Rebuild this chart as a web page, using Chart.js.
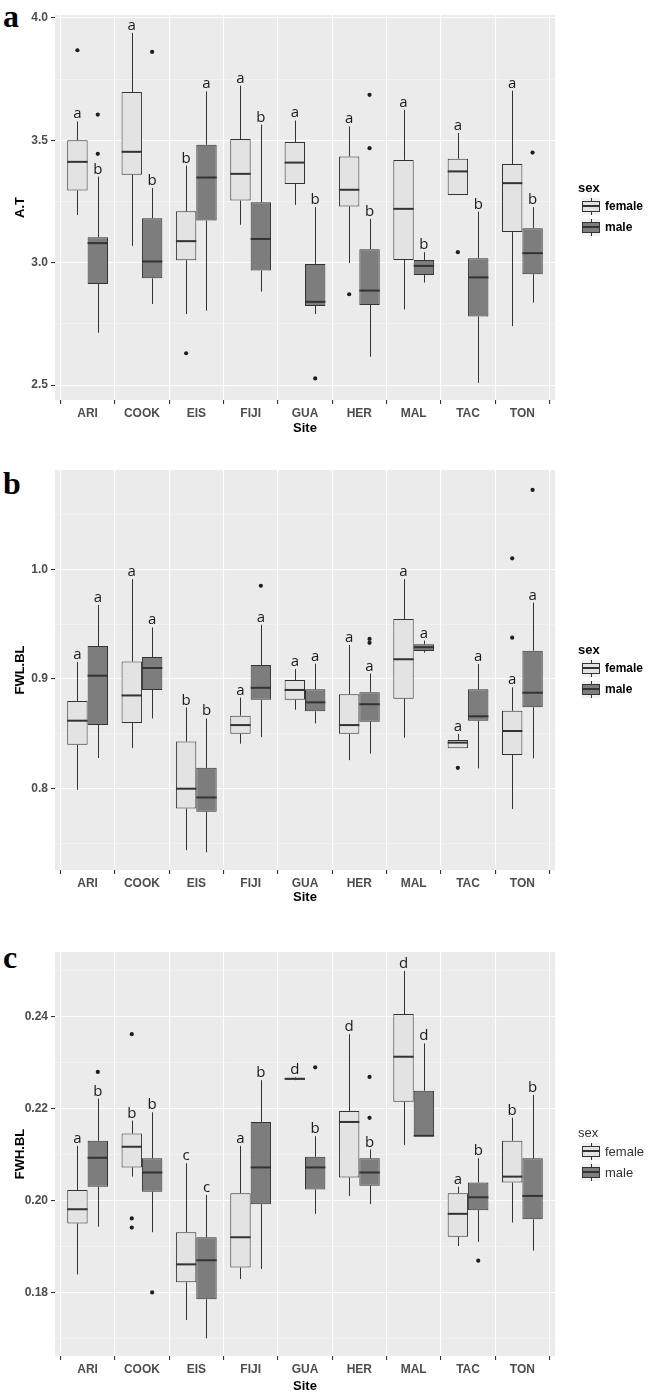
<!DOCTYPE html>
<html><head><meta charset="utf-8">
<script src="https://cdn.jsdelivr.net/npm/chart.js@4.4.1/dist/chart.umd.min.js"></script>
<style>
body{margin:0;background:#fff;width:650px;height:1393px;position:relative;overflow:hidden;font-family:"Liberation Sans",Arial,sans-serif}
canvas{position:absolute;left:0}
.plab{position:absolute;left:3px;font:bold 32px "Liberation Serif","Times New Roman",serif;line-height:1;color:#000}
.leg{position:absolute;left:578px;width:72px}
.leg .t{position:absolute;left:0;font-size:13px;line-height:15px;color:#000}
.leg .row{position:absolute;left:4px;height:17px;width:70px}
.leg .key{position:absolute;left:0;top:0;width:18px;height:17px;background:#F2F2F2}
.leg .wh{position:absolute;left:8.5px;top:0;width:1px;height:17px;background:#333}
.leg .bx{position:absolute;left:0;top:3px;width:16px;height:9px;border:1px solid #333}
.leg .md{position:absolute;left:0;top:7px;width:18px;height:2px;background:#333}
.leg .lt{position:absolute;left:23px;top:1px;font-size:12px;line-height:15px;color:#000;white-space:nowrap}
</style></head>
<body>
<div class="plab" style="top:0px">a</div>
<div class="plab" style="top:467px">b</div>
<div class="plab" style="top:941px">c</div>
<canvas id="ca" width="650" height="440" style="top:0px"></canvas>
<canvas id="cb" width="650" height="455" style="top:455px"></canvas>
<canvas id="cc" width="650" height="465" style="top:937px"></canvas>
<div class="leg" id="la" style="top:180px"></div>
<div class="leg" id="lb" style="top:642px"></div>
<div class="leg" id="lc" style="top:1125px"></div>
<script>
// ---------- data ----------
const sites = ['ARI','COOK','EIS','FIJI','GUA','HER','MAL','TAC','TON'];
const sexes = ['female','male'];

// each entry: [lower whisker, Q1, median, Q3, upper whisker]
// Panel a : A.T
const atFemale = [[3.195,3.295,3.412,3.500,3.577],[3.069,3.359,3.453,3.697,3.939],[2.790,3.010,3.088,3.210,3.397],[3.155,3.254,3.363,3.505,3.723],[3.236,3.322,3.409,3.493,3.581],[2.998,3.230,3.298,3.434,3.557],[2.809,3.011,3.220,3.420,3.625],[3.277,3.277,3.373,3.425,3.530],[2.741,3.125,3.325,3.403,3.703]];
const atMale = [[2.714,2.913,3.080,3.104,3.352],[2.831,2.936,3.005,3.182,3.305],[2.804,3.172,3.348,3.482,3.700],[2.882,2.968,3.097,3.247,3.564],[2.790,2.823,2.840,2.995,3.227],[2.616,2.827,2.886,3.055,3.179],[2.919,2.950,2.987,3.011,3.043],[2.509,2.780,2.940,3.018,3.209],[2.837,2.953,3.039,3.141,3.227]];
const atFemaleOut = [[3.868],[],[2.630],[],[],[2.871],[],[3.043],[]];
const atMaleOut = [[3.605,3.445],[3.861],[],[],[2.527],[3.686,3.468],[],[],[3.450]];
const atFemaleLetters = ['a','a','b','a','a','a','a','a','a'];
const atMaleLetters = ['b','b','a','b','b','b','b','b','b'];
const atTicks = [2.5,3.0,3.5,4.0];
const atTickLabels = ['2.5','3.0','3.5','4.0'];
const atMinor = [2.75,3.25,3.75];

// Panel b : FWL.BL
const fwlFemale = [[0.799,0.840,0.862,0.880,0.9155],[0.837,0.860,0.885,0.916,0.991],[0.744,0.782,0.800,0.843,0.874],[0.841,0.850,0.858,0.8666,0.883],[0.872,0.881,0.890,0.899,0.909],[0.826,0.850,0.858,0.886,0.931],[0.8465,0.882,0.918,0.9547,0.991],[0.8368,0.8368,0.842,0.8444,0.850],[0.7815,0.8307,0.8526,0.871,0.8924]];
const fwlMale = [[0.828,0.858,0.903,0.930,0.9675],[0.864,0.890,0.910,0.920,0.947],[0.742,0.779,0.792,0.819,0.864],[0.847,0.881,0.892,0.9128,0.9495],[0.8596,0.8705,0.8787,0.8906,0.914],[0.832,0.861,0.877,0.888,0.905],[0.924,0.9255,0.929,0.9316,0.935],[0.8185,0.862,0.866,0.8906,0.9137],[0.8277,0.8742,0.8875,0.9258,0.9696]];
const fwlFemaleOut = [[],[],[],[],[],[],[],[0.819],[1.010,0.9377]];
const fwlMaleOut = [[],[],[],[0.985],[],[0.9365,0.933],[],[],[1.0723]];
const fwlFemaleLetters = ['a','a','b','a','a','a','a','a','a'];
const fwlMaleLetters = ['a','a','b','a','a','a','a','a','a'];
const fwlTicks = [0.8,0.9,1.0];
const fwlTickLabels = ['0.8','0.9','1.0'];
const fwlMinor = [0.75,0.85,0.95,1.05];

// Panel c : FWH.BL
const fwhFemale = [[0.1839,0.1950,0.1981,0.2023,0.2119],[0.2052,0.2072,0.2117,0.2146,0.2174],[0.1740,0.1822,0.1861,0.1931,0.2081],[0.1829,0.1854,0.1920,0.2016,0.2119],[0.2262,0.2263,0.2265,0.2266,0.2268],[0.2010,0.2050,0.2171,0.2195,0.2362],[0.2121,0.2215,0.2313,0.2406,0.2500],[0.1901,0.1921,0.1971,0.2016,0.2030],[0.1952,0.2039,0.2052,0.2130,0.2180]];
const fwhMale = [[0.1943,0.2030,0.2093,0.2130,0.2222],[0.1931,0.2019,0.2061,0.2092,0.2192],[0.1700,0.1785,0.1870,0.1920,0.2012],[0.1851,0.1992,0.2072,0.2171,0.2262],[0.1971,0.2024,0.2072,0.2095,0.2140],[0.1992,0.2032,0.2061,0.2092,0.2111],[0.2141,0.2141,0.2141,0.2239,0.2342],[0.1910,0.1979,0.2007,0.2039,0.2092],[0.1891,0.1959,0.2010,0.2092,0.2230]];
const fwhFemaleOut = [[],[0.2362,0.1961,0.1941],[],[],[],[],[],[],[]];
const fwhMaleOut = [[0.2280],[0.1800],[],[],[0.2290],[0.2269,0.2180],[],[0.1869],[]];
const fwhFemaleLetters = ['a','b','c','a','d','d','d','a','b'];
const fwhMaleLetters = ['b','b','c','b','b','b','d','b','b'];
const fwhTicks = [0.18,0.20,0.22,0.24];
const fwhTickLabels = ['0.18','0.20','0.22','0.24'];
const fwhMinor = [0.17,0.19,0.21,0.23,0.25];

// ---------- drawing ----------
const FEMALE_FILL = '#E3E3E3', MALE_FILL = '#7D7D7D', LINE = '#333333';
const DODGE = 0.1875;
Chart.defaults.font.family = '"Liberation Sans", Arial, sans-serif';

function makePanel(id, p) {
  const groups = [
    {stats: p.female, out: p.femaleOut, letters: p.femaleLetters, dodge: -DODGE, fill: FEMALE_FILL, label: sexes[0]},
    {stats: p.male, out: p.maleOut, letters: p.maleLetters, dodge: DODGE, fill: MALE_FILL, label: sexes[1]}
  ];
  const datasets = [];
  groups.forEach(g => {
    datasets.push({
      type: 'bar', label: g.label,
      data: g.stats.map((s, i) => ({x: i, y: [s[1], s[3]]})),
      backgroundColor: g.fill, borderColor: LINE, borderWidth: 1, borderSkipped: false,
      categoryPercentage: 0.75, barPercentage: 1.0, order: 2
    });
  });
  groups.forEach(g => {
    const pts = [];
    g.out.forEach((arr, i) => arr.forEach(v => pts.push({x: i + g.dodge, y: v})));
    datasets.push({type: 'scatter', label: g.label + ' outliers', data: pts,
      pointRadius: 2.1, pointBackgroundColor: '#1E1E1E', pointBorderWidth: 0, order: 1});
  });
  const allTicks = p.ticks.concat(p.minor).sort((a, b) => a - b);
  const isMajor = v => p.ticks.some(t => Math.abs(t - v) < 1e-9);
  const plugin = {
    id: 'boxExtras',
    beforeDraw(chart) {
      const {ctx, chartArea: a} = chart;
      ctx.save(); ctx.fillStyle = '#EBEBEB';
      ctx.fillRect(a.left, a.top, a.width, a.height); ctx.restore();
    },
    beforeDatasetsDraw(chart) {
      const xs = chart.scales.x, ys = chart.scales.y, ctx = chart.ctx;
      ctx.save(); ctx.strokeStyle = LINE; ctx.lineWidth = 1;
      groups.forEach(g => g.stats.forEach((s, i) => {
        const x = Math.round(xs.getPixelForValue(i + g.dodge)) + 0.5;
        ctx.beginPath();
        ctx.moveTo(x, ys.getPixelForValue(s[0])); ctx.lineTo(x, ys.getPixelForValue(s[1]));
        ctx.moveTo(x, ys.getPixelForValue(s[3])); ctx.lineTo(x, ys.getPixelForValue(s[4]));
        ctx.stroke();
      }));
      ctx.restore();
    },
    afterDatasetsDraw(chart) {
      const ys = chart.scales.y, xs = chart.scales.x, ctx = chart.ctx;
      ctx.save();
      groups.forEach((g, gi) => {
        const meta = chart.getDatasetMeta(gi);
        g.stats.forEach((s, i) => {
          const bar = meta.data[i];
          const y = ys.getPixelForValue(s[2]);
          ctx.fillStyle = LINE;
          ctx.fillRect(bar.x - bar.width / 2, y - 1, bar.width, 2);
        });
      });
      ctx.font = '15px "Open Sans", "DejaVu Sans", sans-serif';
      ctx.textAlign = 'center'; ctx.textBaseline = 'alphabetic';
      ctx.fillStyle = '#1A1A1A';
      groups.forEach(g => g.stats.forEach((s, i) => {
        const x = xs.getPixelForValue(i + g.dodge);
        ctx.fillText(g.letters[i], x, ys.getPixelForValue(s[4]) - 3);
      }));
      ctx.restore();
    }
  };
  return new Chart(document.getElementById(id), {
    type: 'bar',
    data: {datasets},
    plugins: [plugin],
    options: {
      responsive: false, animation: false, devicePixelRatio: 1,
      layout: {padding: {top: 15, right: 95, left: 0, bottom: 0}},
      plugins: {legend: {display: false}, tooltip: {enabled: false}},
      scales: {
        x: {
          type: 'linear', min: -0.6, max: 8.6, offset: false,
          afterBuildTicks: s => { s.ticks = sites.map((_, i) => ({value: i})); },
          afterFit: s => { s.height = p.xh; },
          ticks: {callback: v => sites[v] ?? '', color: '#4D4D4D', font: {size: 12, weight: 'bold'}, padding: 2, maxRotation: 0, autoSkip: false},
          grid: {color: '#FFFFFF', lineWidth: 1.1, tickLength: 4, tickColor: '#333333', drawTicks: true},
          border: {display: false},
          title: {display: true, text: 'Site', color: '#000', font: {size: 13, weight: 'bold'}, padding: {top: 0, bottom: p.titlePad}}
        },
        y: {
          type: 'linear', min: p.min, max: p.max,
          afterBuildTicks: s => { s.ticks = allTicks.map(v => ({value: v})); },
          afterFit: s => { s.width = 55; },
          ticks: {
            callback: v => { const k = p.ticks.findIndex(t => Math.abs(t - v) < 1e-9); return k >= 0 ? p.tickLabels[k] : ''; },
            color: '#4D4D4D', font: {size: 12, weight: 'bold'}, padding: 3, autoSkip: false
          },
          grid: {
            color: c => isMajor(c.tick.value) ? '#FFFFFF' : '#F6F6F6',
            lineWidth: c => isMajor(c.tick.value) ? 1.1 : 0.6,
            tickColor: c => isMajor(c.tick.value) ? '#333333' : 'rgba(0,0,0,0)',
            tickLength: 4, drawTicks: true
          },
          border: {display: false},
          title: {display: true, text: p.ytitle, color: '#000', font: {size: 13, weight: 'bold'}, padding: {top: 13, bottom: 0}}
        }
      }
    }
  });
}

function makeLegend(id, bold) {
  const el = document.getElementById(id);
  const w = bold ? 'bold' : 'normal';
  const col = bold ? '#000' : '#333';
  let html = `<div class="t" style="top:0;font-weight:${w};color:${col}">sex</div>`;
  [FEMALE_FILL, MALE_FILL].forEach((f, k) => {
    html += `<div class="row" style="top:${18 + k * 21}px"><div class="key"><div class="wh"></div><div class="bx" style="background:${f}"></div><div class="md"></div></div><div class="lt" style="font-weight:${w};color:${col};font-size:${bold ? 12 : 13}px">${sexes[k]}</div></div>`;
  });
  el.innerHTML = html;
}

makePanel('ca', {female: atFemale, male: atMale, femaleOut: atFemaleOut, maleOut: atMaleOut,
  femaleLetters: atFemaleLetters, maleLetters: atMaleLetters, ticks: atTicks, tickLabels: atTickLabels, minor: atMinor,
  min: 2.439, max: 4.012, ytitle: 'A.T', xh: 40, titlePad: 4});
makePanel('cb', {female: fwlFemale, male: fwlMale, femaleOut: fwlFemaleOut, maleOut: fwlMaleOut,
  femaleLetters: fwlFemaleLetters, maleLetters: fwlMaleLetters, ticks: fwlTicks, tickLabels: fwlTickLabels, minor: fwlMinor,
  min: 0.7259, max: 1.0905, ytitle: 'FWL.BL', xh: 40, titlePad: 5});
makePanel('cc', {female: fwhFemale, male: fwhMale, femaleOut: fwhFemaleOut, maleOut: fwhMaleOut,
  femaleLetters: fwhFemaleLetters, maleLetters: fwhMaleLetters, ticks: fwhTicks, tickLabels: fwhTickLabels, minor: fwhMinor,
  min: 0.16615, max: 0.2541, ytitle: 'FWH.BL', xh: 46, titlePad: 8});
makeLegend('la', true);
makeLegend('lb', true);
makeLegend('lc', false);
</script>
</body></html>
